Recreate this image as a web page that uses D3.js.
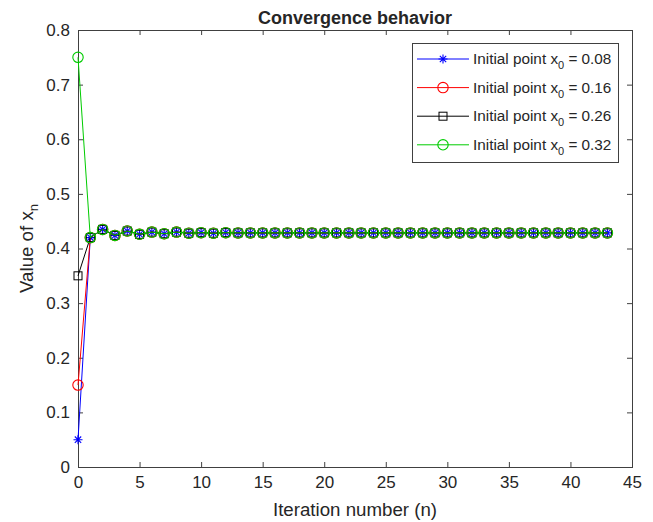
<!DOCTYPE html>
<html>
  <head>
    <script src="https://d3js.org/d3.v7.min.js"></script>
    <style>
      body { margin: 0; background: #fff; }
      text { font-family: "Liberation Sans", Arial, sans-serif; fill: #262626; }
    </style>
  </head>
  <body>
    <svg id="chart" width="653" height="522"></svg>
    <script>
      // iteration numbers and values
      const iterations = d3.range(0, 44);
      const startValues = [0.05, 0.15, 0.35, 0.75];
      // common values for n = 1..43 (all four runs land on the same points)
      const tailValues = [0.420, 0.435, 0.424, 0.432, 0.426, 0.430, 0.427, 0.430, 0.428, 0.429,
        0.428, 0.429, 0.4286, 0.4286, 0.4286, 0.4286, 0.4286, 0.4286, 0.4286, 0.4286,
        0.4286, 0.4286, 0.4286, 0.4286, 0.4286, 0.4286, 0.4286, 0.4286, 0.4286, 0.4286,
        0.4286, 0.4286, 0.4286, 0.4286, 0.4286, 0.4286, 0.4286, 0.4286, 0.4286, 0.4286,
        0.4286, 0.4286, 0.4286];
      const seriesNames = ["0.08", "0.16", "0.26", "0.32"];
      const seriesColors = ["#0000ff", "#ff0000", "#000000", "#00cc00"];
      const seriesMarkers = ["star", "circle", "square", "circle"];
      const xTicks = [0, 5, 10, 15, 20, 25, 30, 35, 40, 45];
      const yTicks = [0, 0.1, 0.2, 0.3, 0.4, 0.5, 0.6, 0.7, 0.8];

      const plotL = 78, plotR = 632, plotT = 30, plotB = 467;
      const svg = d3.select("#chart");

      const x = d3.scaleLinear().domain([0, 45]).range([plotL, plotR]);
      const y = d3.scaleLinear().domain([0, 0.8]).range([plotB, plotT]);

      const axisColor = "#404040";

      function styleAxis(g) {
        g.select(".domain").remove();
        g.selectAll("line").attr("stroke", axisColor);
        g.selectAll("text").attr("font-size", "17px").attr("fill", "#262626")
          .attr("font-family", '"Liberation Sans", Arial, sans-serif');
      }

      svg.append("g").attr("transform", `translate(0,${plotB})`)
        .call(d3.axisBottom(x).tickValues(xTicks).tickSizeInner(-5).tickSizeOuter(0).tickPadding(9))
        .call(styleAxis);
      svg.append("g").attr("transform", `translate(0,${plotT})`)
        .call(d3.axisTop(x).tickValues(xTicks).tickSizeInner(-5).tickSizeOuter(0).tickFormat(""))
        .call(styleAxis);
      svg.append("g").attr("transform", `translate(${plotL},0)`)
        .call(d3.axisLeft(y).tickValues(yTicks).tickSizeInner(-5).tickSizeOuter(0).tickPadding(8)
          .tickFormat(d => d === 0 ? "0" : d3.format(".1f")(d)))
        .call(styleAxis);
      svg.append("g").attr("transform", `translate(${plotR},0)`)
        .call(d3.axisRight(y).tickValues(yTicks).tickSizeInner(-5).tickSizeOuter(0).tickFormat(""))
        .call(styleAxis);

      svg.append("rect")
        .attr("x", plotL + 0.5).attr("y", plotT + 0.5)
        .attr("width", plotR - plotL).attr("height", plotB - plotT)
        .attr("fill", "none").attr("stroke", axisColor).attr("stroke-width", 1);

      // marker drawing
      function drawMarker(g, type, color, cx, cy) {
        if (type === "circle") {
          g.append("circle").attr("cx", cx).attr("cy", cy).attr("r", 5.2)
            .attr("fill", "none").attr("stroke", color).attr("stroke-width", 1.1);
        } else if (type === "square") {
          g.append("rect").attr("x", cx - 4).attr("y", cy - 4).attr("width", 8).attr("height", 8)
            .attr("fill", "none").attr("stroke", color).attr("stroke-width", 1);
        } else {
          const r = 4.5, d = r * 0.7071;
          g.append("path")
            .attr("d", `M${cx - r},${cy}L${cx + r},${cy}M${cx},${cy - r}L${cx},${cy + r}` +
              `M${cx - d},${cy - d}L${cx + d},${cy + d}M${cx - d},${cy + d}L${cx + d},${cy - d}`)
            .attr("fill", "none").attr("stroke", color).attr("stroke-width", 1.1);
        }
      }

      const line = d3.line().x(d => x(d[0])).y(d => y(d[1]));

      startValues.forEach((s, i) => {
        const values = [s].concat(tailValues);
        const pts = iterations.map((n, k) => [n, values[k]]);
        const g = svg.append("g");
        g.append("path").datum(pts).attr("d", line)
          .attr("fill", "none").attr("stroke", seriesColors[i]).attr("stroke-width", 1);
        pts.forEach(p => drawMarker(g, seriesMarkers[i], seriesColors[i], x(p[0]), y(p[1])));
      });

      // title and axis labels
      svg.append("text").attr("x", (plotL + plotR) / 2).attr("y", 24)
        .attr("text-anchor", "middle").attr("font-size", "18px").attr("font-weight", "bold")
        .text("Convergence behavior");

      svg.append("text").attr("x", (plotL + plotR) / 2).attr("y", 516)
        .attr("text-anchor", "middle").attr("font-size", "18.7px")
        .text("Iteration number (n)");

      const yl = svg.append("text")
        .attr("transform", `translate(33,${(plotT + plotB) / 2}) rotate(-90)`)
        .attr("text-anchor", "middle").attr("font-size", "18.7px");
      yl.append("tspan").text("Value of x");
      yl.append("tspan").attr("font-size", "13px").attr("dy", 5).text("n");

      // legend
      const legend = svg.append("g");
      legend.append("rect").attr("x", 412.5).attr("y", 43.5).attr("width", 206).attr("height", 119)
        .attr("fill", "#fff").attr("stroke", axisColor).attr("stroke-width", 1);
      seriesNames.forEach((name, i) => {
        const ly = 59 + i * 28.6;
        legend.append("line").attr("x1", 417).attr("x2", 469).attr("y1", ly).attr("y2", ly)
          .attr("stroke", seriesColors[i]).attr("stroke-width", 1);
        drawMarker(legend, seriesMarkers[i], seriesColors[i], 443, ly);
        const t = legend.append("text").attr("x", 473).attr("y", ly + 5).attr("font-size", "15.3px");
        t.append("tspan").text("Initial point x");
        t.append("tspan").attr("font-size", "11px").attr("dy", 5).text("0");
        t.append("tspan").attr("dy", -5).text(" = " + name);
      });
    </script>
  </body>
</html>
